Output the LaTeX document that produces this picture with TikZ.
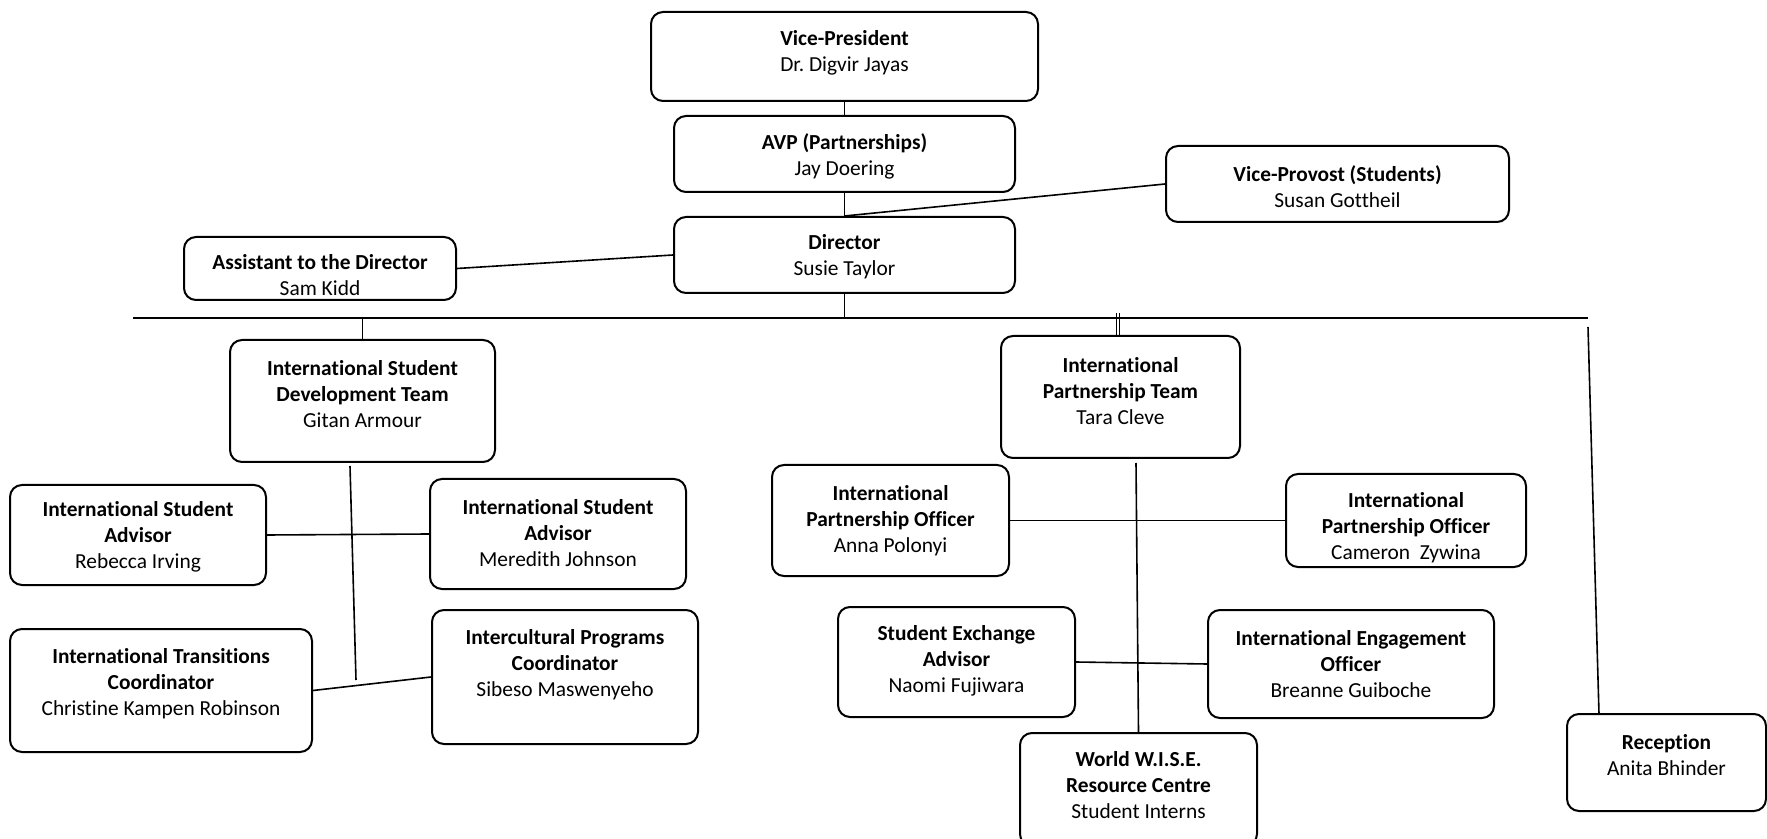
\documentclass[tikz,border=0pt]{standalone}
\usepackage{fontspec}
\setmainfont{Carlito}[RawFeature=-liga]
\frenchspacing
\usetikzlibrary{calc}
\tikzset{
  obox/.style={draw, line width=1pt, rounded corners=6pt, rectangle, inner sep=0pt, fill=white},
  otext/.style={align=center, inner sep=0pt, font=\fontsize{10.7pt}{13pt}\selectfont},
  conn/.style={line width=0.8pt}
}
\newcommand{\orgbox}[7]{%
  \node[obox, minimum width={(#4-#2)*0.5pt}, minimum height={(#5-#3)*0.5pt}] (#1) at ({(#2+#4)/2},{(#3+#5)/2}) {};
  \node[otext] (#1-t) at ($(#1.center)+(0,#6)$) {#7};
}
\begin{document}
\begin{tikzpicture}[x=0.5pt,y=-0.5pt]
\useasboundingbox (0,0) rectangle (1767,839);
\clip (0,0) rectangle (1767,839);
\orgbox{vp}{651}{12}{1038}{101}{-3.5}{\textbf{Vice-President}\\Dr. Digvir Jayas}
\orgbox{avp}{674}{116}{1015}{192}{2}{\textbf{AVP (Partnerships)}\\Jay Doering}
\orgbox{dir}{674}{217}{1015}{293}{2}{\textbf{Director}\\Susie Taylor}
\orgbox{vprov}{1166}{146}{1509}{222}{3}{\textbf{Vice-Provost (Students)}\\Susan Gottheil}
\orgbox{asst}{184}{237}{456}{300}{6.5}{\textbf{Assistant to the Director}\\Sam Kidd}
\orgbox{isd}{230}{340}{495}{462}{-7}{\textbf{International Student}\\\textbf{Development Team}\\Gitan Armour}
\orgbox{reb}{10}{485}{266}{585}{2}{\textbf{International Student}\\\textbf{Advisor}\\Rebecca Irving}
\orgbox{mer}{430}{479}{686}{589}{-1}{\textbf{International Student}\\\textbf{Advisor}\\Meredith Johnson}
\orgbox{trans}{10}{629}{312}{752}{-6.5}{\textbf{International Transitions}\\\textbf{Coordinator}\\Christine Kampen Robinson}
\orgbox{intc}{432}{610}{698}{744}{-12}{\textbf{Intercultural Programs}\\\textbf{Coordinator}\\Sibeso Maswenyeho}
\orgbox{ipt}{1001}{336}{1240}{458}{-6}{\textbf{International}\\\textbf{Partnership Team}\\Tara Cleve}
\orgbox{anna}{772}{465}{1009}{576}{0}{\textbf{International}\\\textbf{Partnership Officer}\\Anna Polonyi}
\orgbox{cam}{1286}{474}{1526}{567}{7.5}{\textbf{International}\\\textbf{Partnership Officer}\\Cameron~ Zywina}
\orgbox{exch}{838}{607}{1075}{717}{-1}{\textbf{Student Exchange}\\\textbf{Advisor}\\Naomi Fujiwara}
\orgbox{eng}{1208}{610}{1494}{718}{0}{\textbf{International Engagement}\\\textbf{Officer}\\Breanne Guiboche}
\orgbox{wise}{1020}{733}{1257}{846}{-4.5}{\textbf{World W.I.S.E.}\\\textbf{Resource Centre}\\Student Interns}
\orgbox{rec}{1567}{714}{1766}{811}{-7.5}{\textbf{Reception}\\Anita Bhinder}
% coordinates
\coordinate (busL) at (133,318);
\coordinate (busR) at (1588,318);
\coordinate (isdA) at (350,466);
\coordinate (isdB) at (356,680);
\coordinate (ipA) at (1136,463);
\coordinate (recA) at (1588,327);
\coordinate (recB) at (1599,714);
% connectors
\draw[conn] (vp) -- (avp);
\draw[conn] (avp) -- (dir);
\draw[conn] (dir.north) -- (vprov.west);
\draw[conn] (dir.west) -- (asst.east);
\draw[conn] (busL) -- (busR);
\draw[conn] (dir.south) -- (dir.south |- busL);
\draw[conn] (isd.north) -- (isd.north |- busL);
\draw[conn] ($(ipt.north)+(-4,0)$) -- ($(ipt.north)+(-4,-22)$);
\draw[conn] ($(ipt.north)+(-1,0)$) -- ($(ipt.north)+(-1,-22)$);
\draw[conn] (isdA) -- (isdB);
\draw[conn] (reb.east) -- (mer.west);
\draw[conn] (trans.east) -- (intc.west);
\draw[conn] (ipA) -- (wise.north);
\draw[conn] (anna.east) -- (cam.west);
\draw[conn] (exch.east) -- (eng.west);
\draw[conn] (recA) -- (recB);
\end{tikzpicture}
\end{document}
